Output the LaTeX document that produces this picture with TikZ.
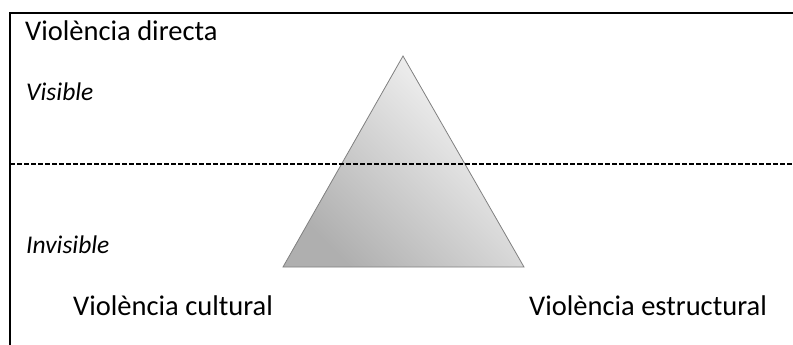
\documentclass[tikz,border=0pt]{standalone}
\usepackage{fontspec}
\setmainfont{Carlito}
\usepackage{tikz}
\usetikzlibrary{positioning}
\definecolor{pyrdark}{RGB}{175,175,175}
\definecolor{pyrlight}{RGB}{250,250,250}
\definecolor{pyredge}{RGB}{128,128,128}

\begin{document}
\begin{tikzpicture}[x=1pt,y=-1pt,
  lbl/.style={anchor=base west,inner sep=0pt,font=\fontsize{28.5}{33}\selectfont},
  lvl/.style={anchor=base west,inner sep=0pt,font=\fontsize{25.5}{29}\selectfont\itshape}]
  \useasboundingbox (0,0) rectangle (793,345);
  % frame and visible/invisible split
  \draw[line width=1.3pt] (793,13) -- (10,13) -- (10,345);
  \coordinate (sl) at (10,164);
  \coordinate (sr) at (793,164);
  % pyramid
  \coordinate (top) at (403,56);
  \coordinate (bl) at (283,267);
  \coordinate (br) at (524,267);
  \shade[left color=pyrdark,right color=pyrlight,shading angle=135] (top)--(bl)--(br)--cycle;
  \draw[pyredge,line width=0.8pt] (top)--(bl)--(br)--cycle;
  \draw[line width=1.3pt,dash pattern=on 5pt off 2pt] (sl) -- (sr);
  % labels
  \node[lbl] (direct) at (25,41) {Violència directa};
  \node[lvl] (vis) at (26,101) {Visible};
  \node[lvl] (invis) at (26,253) {Invisible};
  \node[lbl] (cult) at (73,315) {Violència cultural};
  \node[lbl] (estr) at (529,315) {Violència estructural};
\end{tikzpicture}
\end{document}
